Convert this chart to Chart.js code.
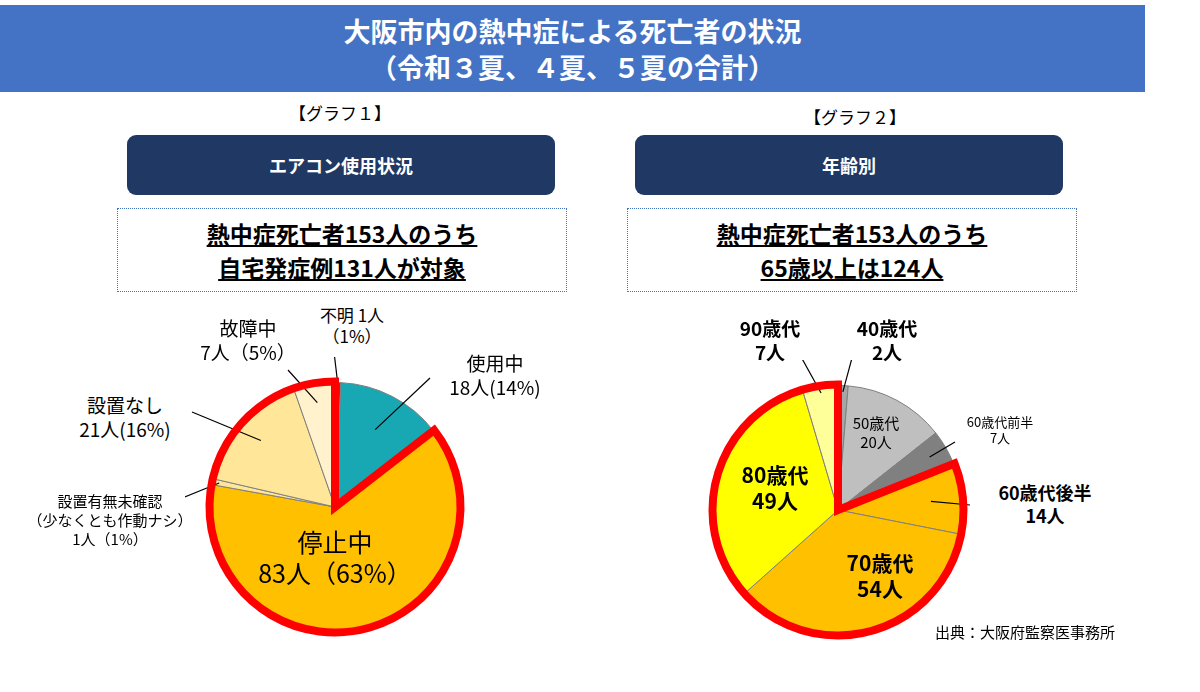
<!DOCTYPE html>
<html><head><meta charset="utf-8">
<script src="https://cdn.jsdelivr.net/npm/chart.js@4"></script>
<style>
body{margin:0;width:1200px;height:692px;background:#fff;position:relative;overflow:hidden;font-family:"Noto Sans CJK JP","Noto Sans",sans-serif;}
.a{position:absolute;transform:translate(-50%,-50%);text-align:center;white-space:nowrap;line-height:1.25;color:#000;}
.b{font-weight:bold}
#title{position:absolute;left:0;top:5px;width:1145px;height:87px;background:#4472C4;color:#fff;font-weight:bold;font-size:27px;text-align:center;line-height:36px;padding-top:8px;box-sizing:border-box;}
.nav{position:absolute;background:#1F3864;color:#fff;border-radius:9px;font-size:18px;font-weight:bold;display:flex;align-items:center;justify-content:center;}
.dot{position:absolute;border:1px dotted #4472C4;font-size:23px;font-weight:bold;text-align:center;line-height:34px;padding-top:7px;box-sizing:border-box;}
.dot span{text-decoration:underline;}
canvas{position:absolute;}
</style></head><body>
<div id="title">大阪市内の熱中症による死亡者の状況<br>（令和３夏、４夏、５夏の合計）</div>
<div class="a" style="left:340px;top:113px;font-size:17px">【グラフ１】</div>
<div class="a" style="left:855px;top:117px;font-size:17px">【グラフ２】</div>
<div class="nav" style="left:127px;top:135px;width:428px;height:60px">エアコン使用状況</div>
<div class="nav" style="left:635px;top:135px;width:428px;height:60px">年齢別</div>
<div class="dot" style="left:117px;top:208px;width:450px;height:84px"><span>熱中症死亡者153人のうち</span><br><span>自宅発症例131人が対象</span></div>
<div class="dot" style="left:627px;top:208px;width:450px;height:84px"><span>熱中症死亡者153人のうち</span><br><span>65歳以上は124人</span></div>
<div style="position:absolute;left:185px;top:357px;width:300px;height:300px"><canvas id="c1"></canvas></div>
<div style="position:absolute;left:688px;top:360px;width:300px;height:300px"><canvas id="c2"></canvas></div>
<div id="labels"></div>
<div class="a" style="left:1025px;top:632px;font-size:15px">出典：大阪府監察医事務所</div>
<script>
// Graph 1: air conditioner usage (clockwise from top)
const acCategories = ["不明","使用中","停止中","設置有無未確認","設置なし","故障中"];
const acValues = [1, 18, 83, 1, 21, 7];
const acColors = ["#2F5597","#17A8B4","#FFC000","#FFE699","#FFE699","#FFF2CC"];
// Graph 2: age groups (clockwise from top)
const ageCategories = ["40歳代","50歳代","60歳代前半","60歳代後半","70歳代","80歳代","90歳代"];
const ageValues = [2, 20, 7, 14, 54, 49, 7];
const ageColors = ["#A6A6A6","#BFBFBF","#808080","#FFC000","#FFC000","#FFFF00","#FFFF99"];

const acGroup=[2,5], ageGroup=[3,6];

const labels1=[
 {i:0,html:"不明 1人<br>（1%）",x:352,y:325,fs:17,w:"normal",lr:0.98},
 {i:5,html:"故障中<br>7人（5%）",x:248,y:340,fs:19,w:"normal",lr:0.85},
 {i:1,html:"使用中<br>18人(14%)",x:495,y:375,fs:19,w:"normal",lr:0.7},
 {i:4,html:"設置なし<br>21人(16%)",x:125,y:417,fs:19,w:"normal",lr:0.8},
 {i:3,html:"設置有無未確認<br>（少なくとも作動ナシ）<br>1人（1%）",x:110,y:520,fs:15,w:"normal",lr:0.95},
 {i:2,html:"停止中<br>83人（63%）",x:335,y:557,fs:25,w:"normal",lr:null}
];
const labels2=[
 {i:6,html:"90歳代<br>7人",x:770,y:340,fs:19,w:"bold",lr:0.95},
 {i:0,html:"40歳代<br>2人",x:887,y:340,fs:19,w:"bold",lr:0.95},
 {i:1,html:"50歳代<br>20人",x:876,y:433,fs:15,w:"normal",lr:null},
 {i:2,html:"60歳代前半<br>7人",x:1000,y:430,fs:13,w:"normal",lr:0.85},
 {i:3,html:"60歳代後半<br>14人",x:1045,y:503,fs:18,w:"bold",lr:0.75},
 {i:5,html:"80歳代<br>49人",x:775,y:487,fs:21,w:"bold",lr:null},
 {i:4,html:"70歳代<br>54人",x:880,y:575,fs:21,w:"bold",lr:null}
];
const lineEnds1={0:[334,352],5:[288,370],1:[430,378],4:[192,412],3:[165,505]};
const lineEnds2={6:[800,355],0:[852,358],2:[955,442],3:[970,505]};

const L=document.getElementById('labels');
function addLabels(arr){arr.forEach(l=>{const d=document.createElement('div');d.className='a';d.style.left=l.x+'px';d.style.top=l.y+'px';d.style.fontSize=l.fs+'px';d.style.fontWeight=l.w;d.innerHTML=l.html;L.appendChild(d);});}
addLabels(labels1);addLabels(labels2);

function groupPlugin(group,labs,ends,ox,oy){
 return {id:'g'+ox,afterDatasetsDraw(ch){
  const ctx=ch.ctx, arcs=ch.getDatasetMeta(0).data;
  const a0=arcs[group[0]], a1=arcs[group[1]];
  ctx.save();
  ctx.strokeStyle='#000';ctx.lineWidth=1.2;
  labs.forEach(l=>{ if(l.lr==null) return; const a=arcs[l.i]; const m=(a.startAngle+a.endAngle)/2;
    const px=a.x+Math.cos(m)*a.outerRadius*l.lr, py=a.y+Math.sin(m)*a.outerRadius*l.lr;
    const e=ends[l.i]; ctx.beginPath();ctx.moveTo(px,py);ctx.lineTo(e[0]-ox,e[1]-oy);ctx.stroke();});
  ctx.strokeStyle='#FF0000';ctx.lineWidth=8;ctx.lineJoin='miter';
  const r=a0.outerRadius+1;
  ctx.beginPath();ctx.moveTo(a0.x,a0.y);ctx.arc(a0.x,a0.y,r,a0.startAngle,a1.endAngle);ctx.closePath();ctx.stroke();
  ctx.restore();
 }};
}
function mk(id,vals,cats,cols,plugin){
 new Chart(document.getElementById(id),{type:'pie',
  data:{labels:cats,datasets:[{data:vals,backgroundColor:cols,borderColor:'#7F7F7F',borderWidth:1}]},
  options:{responsive:true,maintainAspectRatio:false,animation:false,layout:{padding:25},
   plugins:{legend:{display:false},tooltip:{enabled:false}}},plugins:[plugin]});
}
mk('c1',acValues,acCategories,acColors,groupPlugin(acGroup,labels1,lineEnds1,185,357));
mk('c2',ageValues,ageCategories,ageColors,groupPlugin(ageGroup,labels2,lineEnds2,688,360));
</script></body></html>
